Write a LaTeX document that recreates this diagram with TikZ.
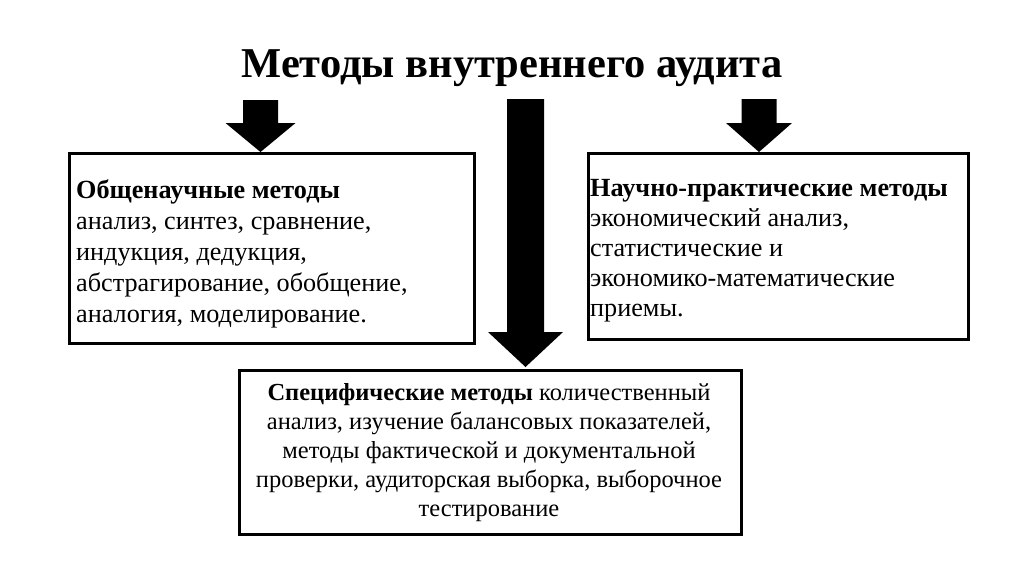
\documentclass[tikz,border=0pt]{standalone}
\usepackage{fontspec}
\setmainfont{Liberation Serif}
\begin{document}
\begin{tikzpicture}[x=1pt,y=-1pt,
  frame/.style={draw=black,line width=2.6pt,rectangle,inner sep=0pt,anchor=north west},
  boxtext/.style={inner sep=0pt,anchor=west,align=left},
  blockarrow/.style={fill=black,draw=none}]
\useasboundingbox[fill=white] (0,0) rectangle (1024,574);
\node[font=\bfseries\fontsize{42.5}{46}\selectfont] (title) at (512,68) {Методы внутреннего аудита};
% boxes
\node[frame,minimum width=405pt,minimum height=190pt] (lbox) at (68,152) {};
\node[boxtext,font=\fontsize{26.2}{30.8}\selectfont] (ltext) at (76,254)
  {\textbf{Общенаучные методы}\\анализ, синтез, сравнение,\\индукция, дедукция,\\абстрагирование, обобщение,\\аналогия, моделирование.};
\node[frame,minimum width=380pt,minimum height=186pt] (rbox) at (587,152) {};
\node[boxtext,font=\fontsize{26.2}{30}\selectfont] (rtext) at (590,251)
  {\textbf{Научно-практические методы}\\экономический анализ,\\статистические и\\экономико-математические\\приемы.};
\node[frame,minimum width=502pt,minimum height=164pt] (bbox) at (238,369) {};
\node[inner sep=0pt,align=center,font=\fontsize{24.5}{28.8}\selectfont] (btext) at (489,452.5)
  {\textbf{Специфические методы} количественный\\анализ, изучение балансовых показателей,\\методы фактической и документальной\\проверки, аудиторская выборка, выборочное\\тестирование};
% block arrows
\coordinate (la) at (260.5,152);
\coordinate (ra) at (759,152);
\coordinate (ma) at (525.5,367);
\fill[blockarrow] (la) -- ++(-35,-29) -- ++(17.5,0) -- ++(0,-23) -- ++(35,0) -- ++(0,23) -- ++(17.5,0) -- cycle;
\fill[blockarrow] (ra) -- ++(-33,-29) -- ++(15.5,0) -- ++(0,-24) -- ++(35,0) -- ++(0,24) -- ++(15.5,0) -- cycle;
\fill[blockarrow] (ma) -- ++(-37.5,-35) -- ++(19,0) -- ++(0,-233) -- ++(37,0) -- ++(0,233) -- ++(19,0) -- cycle;
\end{tikzpicture}
\end{document}
